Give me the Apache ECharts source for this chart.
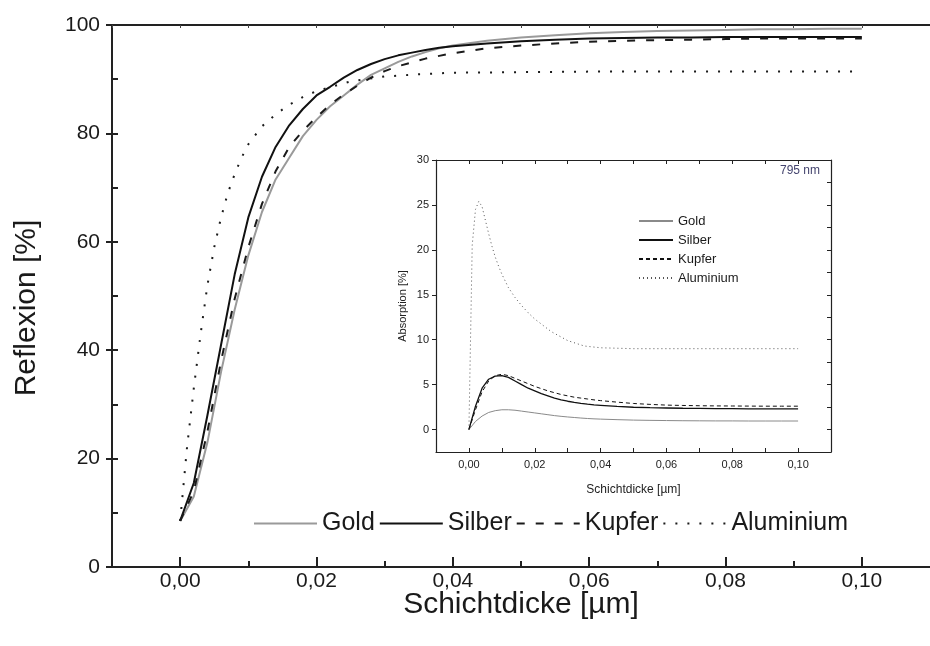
<!DOCTYPE html>
<html>
<head>
<meta charset="utf-8">
<script src="https://cdn.jsdelivr.net/npm/echarts@6/dist/echarts.min.js"></script>
<style>
  html, body { margin: 0; padding: 0; background: #fff; }
  #chart { width: 930px; height: 646px; }
</style>
</head>
<body>
<div id="chart"></div>
<script>
// layer thickness in µm (gold, silver, copper share one sampling)
const thickness = [0, 0.002, 0.004, 0.006, 0.008, 0.010, 0.012, 0.014, 0.016, 0.018,
  0.020, 0.022, 0.024, 0.026, 0.028, 0.030, 0.032, 0.034, 0.036, 0.038, 0.040,
  0.045, 0.050, 0.055, 0.060, 0.065, 0.070, 0.075, 0.080, 0.085, 0.090, 0.095, 0.100];
// aluminium is sampled finer near zero
const thicknessAl = [0, 0.001, 0.002, 0.003, 0.004, 0.005, 0.006, 0.007, 0.008, 0.009,
  0.010, 0.012, 0.014, 0.016, 0.018, 0.020, 0.025, 0.030, 0.035, 0.040,
  0.050, 0.060, 0.070, 0.080, 0.090, 0.100];

// Reflexion [%]
const reflGold = [8.5, 13, 23, 36, 47.5, 57.5, 65.5, 71.5, 75.5, 79.5,
  82.5, 85, 87, 89, 90.8, 92, 93.2, 94.2, 95, 95.7, 96.2,
  97.1, 97.7, 98.1, 98.5, 98.7, 98.9, 99, 99.1, 99.2, 99.2, 99.3, 99.3];
const reflSilber = [8.5, 15.5, 28, 41, 54, 64.5, 72, 77.5, 81.5, 84.5,
  87, 88.6, 90.3, 91.7, 92.8, 93.7, 94.4, 94.9, 95.4, 95.8, 96.1,
  96.6, 97, 97.3, 97.5, 97.6, 97.7, 97.7, 97.8, 97.8, 97.8, 97.8, 97.8];
const reflKupfer = [8.5, 14, 25, 38, 49.5, 59, 67, 73, 77.5, 80.5,
  83, 85.3, 87.2, 88.8, 90.3, 91.5, 92.4, 93.1, 93.8, 94.3, 94.8,
  95.7, 96.2, 96.6, 96.9, 97.1, 97.2, 97.3, 97.4, 97.5, 97.5, 97.5, 97.5];
const reflAlu = [8.5, 22, 33, 43, 52, 59, 64.5, 69, 72.5, 75.5,
  78, 81.3, 83.5, 85.3, 86.7, 87.8, 89.6, 90.5, 90.9, 91.2,
  91.3, 91.4, 91.4, 91.4, 91.4, 91.4];

// Absorption [%] (inset, 795 nm)
const absGold = [0, 0.9, 1.5, 1.9, 2.1, 2.2, 2.2, 2.15, 2.05, 1.95,
  1.85, 1.75, 1.65, 1.55, 1.47, 1.4, 1.34, 1.28, 1.23, 1.19, 1.16,
  1.1, 1.05, 1.02, 1, 0.98, 0.97, 0.96, 0.96, 0.95, 0.95, 0.95, 0.95];
const absSilber = [0, 2.6, 4.6, 5.6, 5.95, 6, 5.8, 5.4, 5, 4.6,
  4.3, 4, 3.75, 3.5, 3.3, 3.15, 3.02, 2.92, 2.83, 2.75, 2.7,
  2.57, 2.48, 2.43, 2.4, 2.37, 2.35, 2.33, 2.32, 2.31, 2.3, 2.3, 2.3];
const absKupfer = [0, 2.2, 4.2, 5.4, 6, 6.15, 6, 5.7, 5.4, 5.1,
  4.8, 4.55, 4.3, 4.1, 3.9, 3.75, 3.6, 3.5, 3.4, 3.3, 3.22,
  3.05, 2.9, 2.8, 2.72, 2.68, 2.65, 2.63, 2.62, 2.61, 2.6, 2.6, 2.6];
const absAlu = [0, 20.5, 24.5, 25.4, 24.8, 23.3, 21.8, 20.4, 19.2, 18.2,
  17.3, 15.8, 14.7, 13.8, 13, 12.3, 10.9, 9.9, 9.3, 9.1,
  9, 9, 9, 9, 9, 9];

const materials = ['Gold', 'Silber', 'Kupfer', 'Aluminium'];
const xLabelTicks = [0, 0.02, 0.04, 0.06, 0.08, 0.10];
const xMinorTicks = [0.01, 0.03, 0.05, 0.07, 0.09];
const xAllTicks = [-0.01, 0, 0.01, 0.02, 0.03, 0.04, 0.05, 0.06, 0.07, 0.08, 0.09, 0.10, 0.11];
const insetYLabels = [0, 5, 10, 15, 20, 25, 30];

const sans = '"Liberation Sans", Arial, sans-serif';

const pairs = (xs, ys) => xs.map((x, i) => [x, ys[i]]);
const comma = v => v.toFixed(2).replace('.', ',');

const styles = {
  Gold:      { color: '#9a9a9a', type: 'solid' },
  Silber:    { color: '#111111', type: 'solid' },
  Kupfer:    { color: '#1a1a1a', type: [8, 11] },
  Aluminium: { color: '#1a1a1a', type: [2, 10] }
};
const insetStyles = {
  Gold:      { color: '#8a8a8a', type: 'solid', width: 1 },
  Silber:    { color: '#111111', type: 'solid', width: 1.3 },
  Kupfer:    { color: '#111111', type: [4, 3], width: 1 },
  Aluminium: { color: '#555555', type: [1, 3], width: 1 }
};

const reflData = { Gold: [thickness, reflGold], Silber: [thickness, reflSilber],
  Kupfer: [thickness, reflKupfer], Aluminium: [thicknessAl, reflAlu] };
const absData = { Gold: [thickness, absGold], Silber: [thickness, absSilber],
  Kupfer: [thickness, absKupfer], Aluminium: [thicknessAl, absAlu] };

const series = [];
materials.forEach(m => {
  series.push({
    name: m, type: 'line', xAxisIndex: 0, yAxisIndex: 0,
    data: pairs(reflData[m][0], reflData[m][1]),
    showSymbol: false, symbol: 'none', silent: true,
    lineStyle: { color: styles[m].color, width: 2, type: styles[m].type },
    itemStyle: { color: styles[m].color }
  });
});
materials.forEach(m => {
  series.push({
    name: 'abs-' + m, type: 'line', xAxisIndex: 3, yAxisIndex: 1,
    data: pairs(absData[m][0], absData[m][1]),
    showSymbol: false, symbol: 'none', silent: true,
    lineStyle: { color: insetStyles[m].color, width: insetStyles[m].width, type: insetStyles[m].type },
    itemStyle: { color: insetStyles[m].color }
  });
});

const axisLine = { show: true, onZero: false, lineStyle: { color: '#222', width: 2 } };
const thinLine = { show: true, onZero: false, lineStyle: { color: '#222', width: 1.2 } };
const noSymbol = { opacity: 0, borderWidth: 0 };

const chart = echarts.init(document.getElementById('chart'), null, { renderer: 'canvas' });
chart.setOption({
  animation: false,
  backgroundColor: '#fff',
  title: {
    text: '795 nm', right: 105, top: 160,
    textStyle: { fontFamily: sans, fontSize: 12, fontWeight: 'normal', color: '#44446e' }
  },
  grid: [
    { left: 112, top: 25, right: -12, bottom: 79 },
    { left: 436, top: 160, right: 99, bottom: 194 }
  ],
  legend: [
    {
      data: materials, orient: 'horizontal', left: 253, top: 511,
      itemWidth: 63, itemHeight: 14, itemGap: 4, padding: 0,
      selectedMode: false, itemStyle: noSymbol,
      textStyle: { fontFamily: sans, fontSize: 25, color: '#1a1a1a' }
    },
    {
      data: materials.map(m => 'abs-' + m), orient: 'vertical', left: 638, top: 214,
      itemWidth: 34, itemHeight: 10, itemGap: 5, padding: 0,
      selectedMode: false, itemStyle: noSymbol,
      formatter: n => n.replace('abs-', ''),
      textStyle: { fontFamily: sans, fontSize: 13, lineHeight: 14, color: '#1a1a1a' }
    }
  ],
  xAxis: [
    {
      type: 'value', gridIndex: 0, position: 'bottom', min: -0.01, max: 0.11,
      axisLine: axisLine,
      axisTick: { show: true, inside: true, length: 10, customValues: xLabelTicks, lineStyle: { width: 2, color: '#222' } },
      axisLabel: { customValues: xLabelTicks, formatter: comma, fontFamily: sans, fontSize: 21, color: '#1a1a1a', margin: 4 },
      splitLine: { show: false },
      name: 'Schichtdicke [µm]', nameLocation: 'middle', nameGap: 23, nameMoveOverlap: false,
      nameTextStyle: { fontFamily: sans, fontSize: 30, color: '#1a1a1a', verticalAlign: 'top' }
    },
    {
      type: 'value', gridIndex: 0, position: 'bottom', min: -0.01, max: 0.11,
      axisLine: { show: false, onZero: false },
      axisTick: { show: true, inside: true, length: 6, customValues: xMinorTicks, lineStyle: { width: 2, color: '#222' } },
      axisLabel: { show: false }, splitLine: { show: false }
    },
    {
      type: 'value', gridIndex: 0, position: 'top', min: -0.01, max: 0.11,
      axisLine: axisLine,
      axisTick: { show: true, inside: true, length: 3, customValues: xAllTicks, lineStyle: { width: 1, color: '#444' } },
      axisLabel: { show: false }, splitLine: { show: false }
    },
    {
      type: 'value', gridIndex: 1, position: 'bottom', min: -0.01, max: 0.11,
      axisLine: thinLine,
      axisTick: { show: true, inside: true, length: 4, customValues: xAllTicks, lineStyle: { width: 1, color: '#222' } },
      axisLabel: { customValues: xLabelTicks, formatter: comma, fontFamily: sans, fontSize: 11, color: '#222', margin: 7 },
      splitLine: { show: false },
      name: 'Schichtdicke [µm]', nameLocation: 'middle', nameGap: 32,
      nameTextStyle: { fontFamily: sans, fontSize: 12, color: '#222' }
    },
    {
      type: 'value', gridIndex: 1, position: 'top', min: -0.01, max: 0.11,
      axisLine: thinLine,
      axisTick: { show: true, inside: true, length: 4, customValues: xAllTicks, lineStyle: { width: 1, color: '#222' } },
      axisLabel: { show: false }, splitLine: { show: false }
    }
  ],
  yAxis: [
    {
      type: 'value', gridIndex: 0, min: 0, max: 100, interval: 20,
      axisLine: axisLine,
      axisTick: { show: true, length: 6, lineStyle: { width: 2, color: '#222' } },
      axisLabel: { fontFamily: sans, fontSize: 21, color: '#1a1a1a', margin: 12 },
      splitLine: { show: false },
      name: 'Reflexion [%]', nameLocation: 'middle', nameGap: 70, nameRotate: 90,
      nameTextStyle: { fontFamily: sans, fontSize: 30, color: '#1a1a1a', padding: [0, 24, 0, 0] }
    },
    {
      type: 'value', gridIndex: 1, min: -2.5, max: 30, interval: 2.5,
      axisLine: thinLine,
      axisTick: { show: true, length: 4, customValues: insetYLabels, lineStyle: { width: 1, color: '#222' } },
      axisLabel: { customValues: insetYLabels, fontFamily: sans, fontSize: 11, color: '#222', margin: 7 },
      splitLine: { show: false },
      name: 'Absorption [%]', nameLocation: 'middle', nameGap: 28, nameRotate: 90,
      nameTextStyle: { fontFamily: sans, fontSize: 11, color: '#222' }
    },
    {
      type: 'value', gridIndex: 1, position: 'right', min: -2.5, max: 30, interval: 2.5,
      axisLine: thinLine,
      axisTick: { show: true, inside: true, length: 4, lineStyle: { width: 1, color: '#222' } },
      axisLabel: { show: false }, splitLine: { show: false }
    },
    {
      type: 'value', gridIndex: 0, position: 'left', min: 0, max: 100, interval: 10,
      axisLine: { show: false, onZero: false },
      axisTick: { show: true, inside: true, length: 6, lineStyle: { width: 2, color: '#222' } },
      axisLabel: { show: false }, splitLine: { show: false }
    }
  ],
  series: series
});
</script>
</body>
</html>
